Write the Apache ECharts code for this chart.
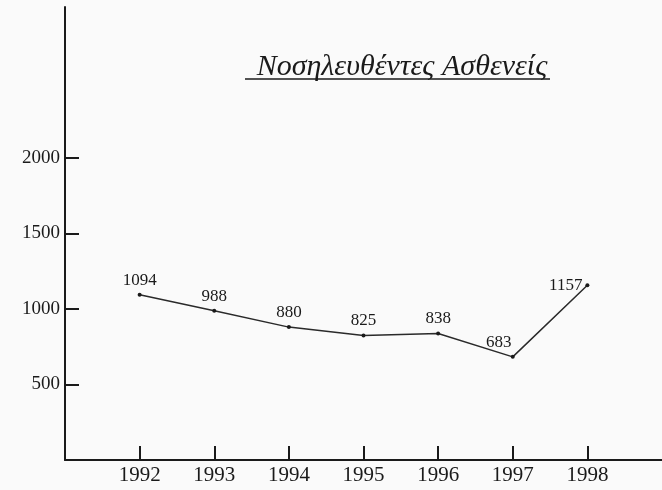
<!DOCTYPE html>
<html>
<head>
<meta charset="utf-8">
<script src="https://cdn.jsdelivr.net/npm/echarts@6/dist/echarts.min.js"></script>
<style>
    html, body { margin: 0; padding: 0; background: #fafafa; }
    #chart { width: 662px; height: 490px; }
</style>
</head>
<body>
<div id="chart"></div>
<script>
const years = [1992, 1993, 1994, 1995, 1996, 1997, 1998];
const patients = [1094, 988, 880, 825, 838, 683, 1157];
const yTicks = [500, 1000, 1500, 2000];
const title = 'Νοσηλευθέντες Ασθενείς';

const serif = '"Liberation Serif", "DejaVu Serif", serif';
const ink = '#1a1a1a';

const chart = echarts.init(document.getElementById('chart'));

// label placement tweaks for the last two points
const labelPos = {
    1997: { position: 'top', offset: [-14, 0] },
    1998: { position: 'left', distance: 3 }
};

chart.setOption({
    backgroundColor: '#fafafa',
    animation: false,
    title: {
        text: title,
        left: 397,
        top: 47,
        textAlign: 'center',
        textStyle: {
            fontFamily: serif,
            fontStyle: 'italic',
            fontWeight: 'normal',
            fontSize: 30,
            color: ink
        }
    },
    graphic: [{
        type: 'line',
        shape: { x1: 245, y1: 79, x2: 550, y2: 79 },
        style: { stroke: ink, lineWidth: 1.5 }
    }],
    grid: { left: 65, right: 0, top: 7, bottom: 30 },
    xAxis: {
        type: 'value',
        min: 1991,
        max: 1999,
        interval: 1,
        splitLine: { show: false },
        axisLine: { lineStyle: { color: ink, width: 2 } },
        axisTick: {
            inside: true,
            length: 14,
            lineStyle: { color: ink, width: 2 },
            customValues: years
        },
        axisLabel: {
            customValues: years,
            formatter: v => String(v),
            fontFamily: serif,
            fontSize: 21,
            color: ink,
            margin: 5
        }
    },
    yAxis: {
        type: 'value',
        min: 0,
        max: 3000,
        interval: 500,
        splitLine: { show: false },
        axisLine: { show: true, lineStyle: { color: ink, width: 2 } },
        axisTick: {
            show: true,
            inside: true,
            length: 14,
            lineStyle: { color: ink, width: 2 },
            customValues: yTicks
        },
        axisLabel: {
            customValues: yTicks,
            formatter: v => String(v),
            fontFamily: serif,
            fontSize: 19,
            color: ink,
            margin: 5
        }
    },
    series: [{
        type: 'line',
        data: years.map((y, i) => ({
            value: [y, patients[i]],
            label: labelPos[y]
        })),
        symbol: 'circle',
        symbolSize: 4,
        itemStyle: { color: ink },
        lineStyle: { color: '#2a2a2a', width: 1.5 },
        label: {
            show: true,
            position: 'top',
            distance: 4,
            fontFamily: serif,
            fontSize: 17,
            color: ink,
            formatter: p => p.value[1]
        }
    }]
});
</script>
</body>
</html>
